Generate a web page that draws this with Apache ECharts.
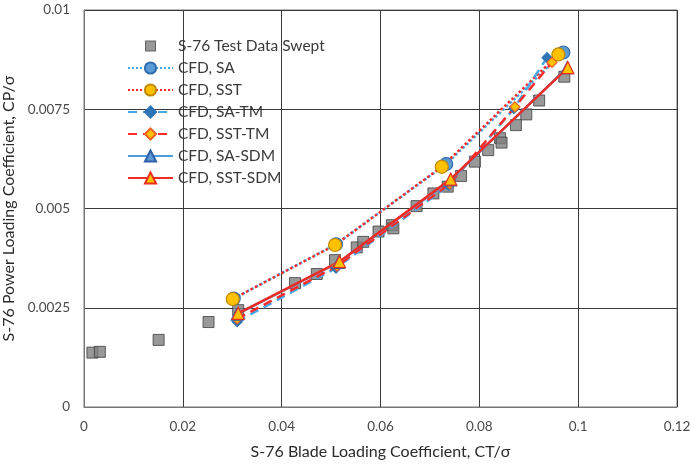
<!DOCTYPE html>
<html>
<head>
<meta charset="utf-8">
<script src="https://cdn.jsdelivr.net/npm/echarts@6/dist/echarts.min.js"></script>
<style>
  html, body { margin: 0; padding: 0; background: #fff; }
  #chart { width: 691px; height: 464px; }
</style>
</head>
<body>
<div id="chart"></div>
<script>
// Axis ticks
const xTicks = [0, 0.02, 0.04, 0.06, 0.08, 0.1, 0.12];
const yTicks = [0, 0.0025, 0.005, 0.0075, 0.01];

// Measured S-76 swept data: [CT/sigma, CP/sigma]
const testCT = [0.0017, 0.0032, 0.0151, 0.0252, 0.0312, 0.0427, 0.0471, 0.0508, 0.0552, 0.0565,
                0.0596, 0.0623, 0.0626, 0.0673, 0.0707, 0.0736, 0.0763, 0.0791, 0.0818, 0.0842,
                0.0845, 0.0874, 0.0895, 0.0921, 0.0972];
const testCP = [0.00137, 0.00139, 0.00169, 0.00214, 0.00244, 0.00312, 0.00335, 0.00370, 0.00402, 0.00416,
                0.00442, 0.00458, 0.00450, 0.00506, 0.00538, 0.00555, 0.00582, 0.00618, 0.00647, 0.00677,
                0.00666, 0.00710, 0.00737, 0.00772, 0.00832];

// CFD predictions
const saCT = [0.0303, 0.0510, 0.0733, 0.0970];
const saCP = [0.00273, 0.00410, 0.00612, 0.00893];
const sstCT = [0.0301, 0.0508, 0.0724, 0.0960];
const sstCP = [0.00272, 0.00408, 0.00605, 0.00888];
const saTmCT = [0.0310, 0.0510, 0.0738, 0.0870, 0.0937];
const saTmCP = [0.00215, 0.00350, 0.00558, 0.00752, 0.00880];
const sstTmCT = [0.0310, 0.0512, 0.0740, 0.0872, 0.0947];
const sstTmCP = [0.00222, 0.00355, 0.00562, 0.00756, 0.00868];
const saSdmCT = [0.0310, 0.0515, 0.0742, 0.0978];
const saSdmCP = [0.00234, 0.00364, 0.00572, 0.00855];
const sstSdmCT = [0.0312, 0.0517, 0.0742, 0.0979];
const sstSdmCP = [0.00236, 0.00366, 0.00574, 0.00855];

const pairs = (xs, ys) => xs.map((x, i) => [x, ys[i]]);
const fmt = v => String(+v.toFixed(4));

const FONT = 'Lato';
const GRID_COLOR = '#3a3a3a';
const LEGEND_W = 45;
const LEGEND_H = 14;

// Square legend icon centred in the legend swatch box
const squareIcon = 'image://data:image/svg+xml;utf8,' + encodeURIComponent(
  '<svg xmlns="http://www.w3.org/2000/svg" width="' + LEGEND_W + '" height="' + LEGEND_H + '">' +
  '<rect x="' + (LEGEND_W / 2 - 5) + '" y="' + (LEGEND_H / 2 - 5) + '" width="10" height="10" ' +
  'fill="#7f7f7f" stroke="#3f3f3f" stroke-width="1"/></svg>');

function lineSeries(name, xs, ys, color, type, symbol, fill, border, size) {
  return {
    name: name,
    type: 'line',
    data: pairs(xs, ys),
    symbol: symbol,
    symbolSize: size,
    showAllSymbol: true,
    lineStyle: { color: color, width: 2.5, type: type },
    itemStyle: { color: fill, borderColor: border, borderWidth: 1.2 },
    z: 3
  };
}

const chart = echarts.init(document.getElementById('chart'), null, { renderer: 'canvas' });
chart.setOption({
  animation: false,
  backgroundColor: '#ffffff',
  grid: {
    left: 84, right: 14, top: 10, bottom: 57,
    outerBoundsMode: 'none',
    containLabel: false,
    show: true, borderColor: '#777', borderWidth: 1
  },
  legend: {
    orient: 'vertical',
    left: 122,
    top: 33,
    itemWidth: LEGEND_W,
    itemHeight: LEGEND_H,
    itemGap: 6,
    textStyle: { fontFamily: FONT, fontSize: 15.5, lineHeight: 14, color: '#3a3a3a' },
    data: [
      { name: 'S-76 Test Data Swept', icon: squareIcon },
      'CFD, SA', 'CFD, SST', 'CFD, SA-TM', 'CFD, SST-TM', 'CFD, SA-SDM', 'CFD, SST-SDM'
    ]
  },
  xAxis: {
    type: 'value',
    min: 0, max: 0.12, interval: 0.02,
    name: 'S-76 Blade Loading Coefficient, CT/σ',
    nameLocation: 'middle',
    nameGap: 37,
    nameTextStyle: { fontFamily: FONT, fontSize: 16, color: '#2b2b2b' },
    axisLine: { show: true, lineStyle: { color: '#777', width: 1 } },
    axisTick: { show: false },
    axisLabel: { fontFamily: FONT, fontSize: 13.5, color: '#4a4a4a', margin: 13, formatter: fmt },
    splitLine: { show: true, lineStyle: { color: GRID_COLOR, width: 1 } }
  },
  yAxis: {
    type: 'value',
    min: 0, max: 0.01, interval: 0.0025,
    name: 'S-76 Power Loading Coefficient, CP/σ',
    nameLocation: 'middle',
    nameGap: 62,
    nameTextStyle: { fontFamily: FONT, fontSize: 16, color: '#2b2b2b' },
    axisLine: { show: true, lineStyle: { color: '#777', width: 1 } },
    axisTick: { show: false },
    axisLabel: { fontFamily: FONT, fontSize: 13.5, color: '#4a4a4a', margin: 14, formatter: fmt },
    splitLine: { show: true, lineStyle: { color: GRID_COLOR, width: 1 } }
  },
  series: [
    {
      name: 'S-76 Test Data Swept',
      type: 'scatter',
      data: pairs(testCT, testCP),
      symbol: 'rect',
      symbolSize: 11,
      itemStyle: { color: '#7f7f7f', borderColor: '#3f3f3f', borderWidth: 1 },
      z: 2
    },
    lineSeries('CFD, SA', saCT, saCP, '#47a8e6', 'dotted', 'circle', '#5b9bd5', '#2e6cb0', 13),
    lineSeries('CFD, SST', sstCT, sstCP, '#ff2a2a', 'dotted', 'circle', '#ffc000', '#c08a00', 13),
    lineSeries('CFD, SA-TM', saTmCT, saTmCP, '#47a8e6', [9, 6], 'diamond', '#2e75b6', '#2e75b6', 10),
    lineSeries('CFD, SST-TM', sstTmCT, sstTmCP, '#ff2a2a', [9, 6], 'diamond', '#ffc000', '#f06020', 10),
    lineSeries('CFD, SA-SDM', saSdmCT, saSdmCP, '#4a9ede', 'solid', 'triangle', '#5b9bd5', '#2e5fa8', 12),
    lineSeries('CFD, SST-SDM', sstSdmCT, sstSdmCP, '#ee2b24', 'solid', 'triangle', '#ffc000', '#e8301e', 12)
  ]
});
</script>
</body>
</html>
